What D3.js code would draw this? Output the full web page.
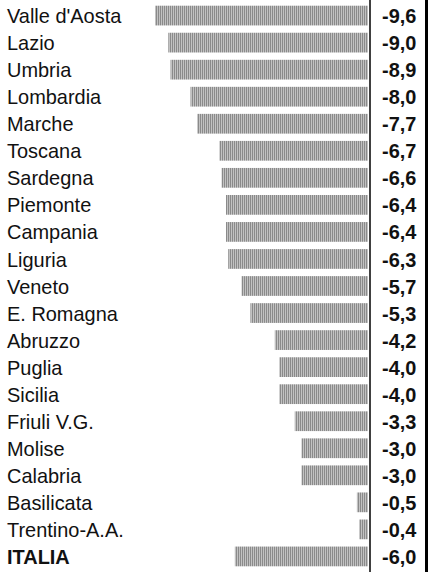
<!DOCTYPE html>
<html>
<head>
<meta charset="utf-8">
<script src="https://cdn.jsdelivr.net/npm/d3@7"></script>
<style>
  body { margin: 0; background: #fff; }
  text { font-family: "Liberation Sans", Arial, sans-serif; fill: #111; }
</style>
</head>
<body>
<svg id="chart" width="434" height="572"></svg>
<script>
const regions = ["Valle d'Aosta", "Lazio", "Umbria", "Lombardia", "Marche", "Toscana", "Sardegna",
  "Piemonte", "Campania", "Liguria", "Veneto", "E. Romagna", "Abruzzo", "Puglia", "Sicilia",
  "Friuli V.G.", "Molise", "Calabria", "Basilicata", "Trentino-A.A.", "ITALIA"];
const values = [-9.6, -9.0, -8.9, -8.0, -7.7, -6.7, -6.6, -6.4, -6.4, -6.3, -5.7, -5.3,
  -4.2, -4.0, -4.0, -3.3, -3.0, -3.0, -0.5, -0.4, -6.0];

const svg = d3.select("#chart");
const fmt = v => d3.format(".1f")(v).replace(".", ",").replace("−", "-");

// fine vertical hatch, like the printed grey screen
const defs = svg.append("defs");
const pat = defs.append("pattern")
  .attr("id", "hatch")
  .attr("width", 2)
  .attr("height", 2)
  .attr("patternUnits", "userSpaceOnUse");
pat.append("rect").attr("width", 2).attr("height", 2).attr("fill", "#c2c2c2");
pat.append("rect").attr("width", 1).attr("height", 2).attr("fill", "#8a8a8a");

const x = d3.scaleLinear().domain([-9.6, 0]).range([155, 368]);
const y = d3.scaleBand().domain(regions).range([3, 569]).paddingInner(0.27).paddingOuter(0.1);

const rows = svg.selectAll("g.row")
  .data(regions)
  .enter()
  .append("g")
  .attr("class", "row");

rows.append("rect")
  .attr("x", (d, i) => x(values[i]))
  .attr("y", d => y(d))
  .attr("width", (d, i) => x(0) - x(values[i]))
  .attr("height", y.bandwidth())
  .attr("fill", "url(#hatch)");

// condensed look: squeeze the text horizontally
rows.append("text")
  .attr("transform", d => `translate(7,${y(d) + y.bandwidth() / 2}) scale(0.95,1)`)
  .attr("dy", "0.36em")
  .style("font-size", "21px")
  .style("font-weight", d => d == "ITALIA" ? "bold" : "normal")
  .text(d => d);

rows.append("text")
  .attr("transform", d => `translate(382,${y(d) + y.bandwidth() / 2}) scale(0.95,1)`)
  .attr("dy", "0.36em")
  .style("font-size", "21px")
  .style("font-weight", "bold")
  .text((d, i) => fmt(values[i]));

// zero line
svg.append("line")
  .attr("x1", 370).attr("x2", 370)
  .attr("y1", 0).attr("y2", 572)
  .attr("stroke", "#000")
  .attr("stroke-width", 1.5);

// right border
svg.append("line")
  .attr("x1", 426.5).attr("x2", 426.5)
  .attr("y1", 0).attr("y2", 572)
  .attr("stroke", "#000")
  .attr("stroke-width", 3);
</script>
</body>
</html>
